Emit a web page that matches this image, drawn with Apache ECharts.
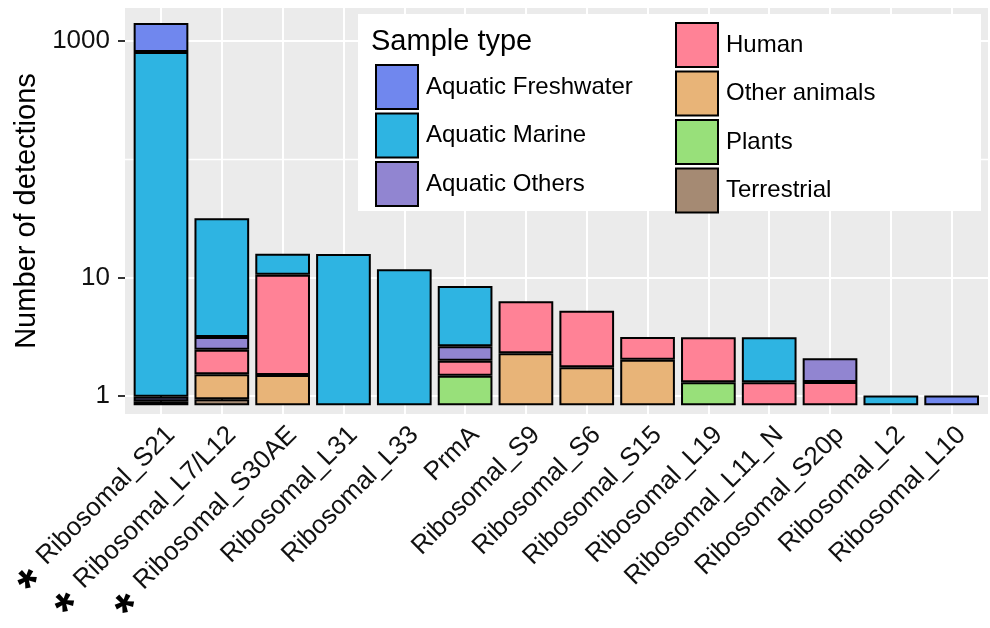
<!DOCTYPE html>
<html><head><meta charset="utf-8">
<script src="https://cdn.jsdelivr.net/npm/echarts@6/dist/echarts.min.js"></script>
<style>html,body{margin:0;padding:0;background:#fff}#c{width:990px;height:628px}</style>
</head><body><div id="c"></div>
<script>
// ---- data ----
const categories = ['Ribosomal_S21','Ribosomal_L7/L12','Ribosomal_S30AE','Ribosomal_L31','Ribosomal_L33','PrmA','Ribosomal_S9','Ribosomal_S6','Ribosomal_S15','Ribosomal_L19','Ribosomal_L11_N','Ribosomal_S20p','Ribosomal_L2','Ribosomal_L10'];
const starred = [true, true, true, false, false, false, false, false, false, false, false, false, false, false];
const sampleTypes = ['Aquatic Freshwater','Aquatic Marine','Aquatic Others','Human','Other animals','Plants','Terrestrial'];
// segment heights on the log10 axis (decades); stacked from the bar base
const barBase          = [-0.079,-0.079,-0.079,-0.079,-0.079,-0.079,-0.079,-0.079,-0.079,-0.079,-0.079,-0.079,-0.079,-0.079];
const terrestrial      = [0.034, 0.051, 0, 0, 0, 0, 0, 0, 0, 0, 0, 0, 0, 0];
const plants           = [0, 0, 0, 0, 0, 0.250, 0, 0, 0, 0.194, 0, 0, 0, 0];
const otherAnimals     = [0, 0.211, 0.256, 0, 0, 0, 0.439, 0.321, 0.385, 0, 0, 0, 0, 0];
const human            = [0, 0.208, 0.846, 0, 0, 0.127, 0.439, 0.478, 0.192, 0.380, 0.194, 0.197, 0, 0];
const aquaticOthers    = [0.038, 0.107, 0, 0, 0, 0.122, 0, 0, 0, 0, 0, 0.200, 0, 0];
const aquaticMarine    = [2.909, 1.002, 0.177, 1.278, 1.148, 0.509, 0, 0, 0, 0, 0.380, 0, 0.084, 0];
const aquaticFreshwater= [0.245, 0, 0, 0, 0, 0, 0, 0, 0, 0, 0, 0, 0, 0.084];
const yTickLabels = [1, 10, 1000];
const yMinorBreaks = [100];

// ---- styling ----
const colors = {
  'Aquatic Freshwater': '#7087EE',
  'Aquatic Marine': '#2EB4E2',
  'Aquatic Others': '#9185D1',
  'Human': '#FF8296',
  'Other animals': '#E8B478',
  'Plants': '#98E07A',
  'Terrestrial': '#A58A73'
};
const FONT = "'Liberation Sans', Arial, Helvetica, sans-serif";
const stackOrder = [
  ['Terrestrial', terrestrial], ['Plants', plants], ['Other animals', otherAnimals],
  ['Human', human], ['Aquatic Others', aquaticOthers], ['Aquatic Marine', aquaticMarine],
  ['Aquatic Freshwater', aquaticFreshwater]
];
const yMin = -0.152, yMax = 3.274;
const TOP = 8, H = 406;
const band = 60.82;               // px per category
const firstCenter = 161;          // px
const labelDx = 10;               // label anchor shift (px)
const n = categories.length;

const series = [{
  name: '_base', type: 'bar', stack: 'total', stackStrategy: 'all', barWidth: 54.7,
  xAxisIndex: 1, yAxisIndex: 2, silent: true,
  itemStyle: { color: 'rgba(0,0,0,0)', borderWidth: 0 },
  data: barBase
}];
stackOrder.forEach(([name, arr]) => {
  series.push({
    name, type: 'bar', stack: 'total', stackStrategy: 'all', barWidth: 54.7,
    xAxisIndex: 1, yAxisIndex: 2,
    itemStyle: { color: colors[name], borderColor: '#000', borderWidth: 2 },
    data: arr.map(v => v ? v : { value: 0, itemStyle: { opacity: 0, borderWidth: 0 } })
  });
});

const hiddenY = gi => ({ type: 'value', gridIndex: gi, min: yMin, max: yMax, show: false });
const gridBase = { top: TOP, height: H, outerBoundsMode: 'none', containLabel: false };

const chart = echarts.init(document.getElementById('c'), null, { renderer: 'canvas' });
chart.setOption({
  animation: false,
  backgroundColor: '#fff',
  textStyle: { fontFamily: FONT },
  grid: [
    Object.assign({ left: 125, width: 863, show: true, backgroundColor: '#EBEBEB', borderWidth: 0 }, gridBase),
    Object.assign({ left: firstCenter - band / 2, width: band * n }, gridBase),
    Object.assign({ left: firstCenter, width: band * (n - 1) }, gridBase),
    Object.assign({ left: firstCenter + labelDx, width: band * (n - 1) }, gridBase)
  ],
  xAxis: [
    { type: 'value', gridIndex: 0, show: false, min: 0, max: 1 },
    { type: 'category', gridIndex: 1, data: categories, show: false },
    { type: 'category', gridIndex: 2, data: categories, boundaryGap: false, position: 'bottom',
      axisLine: { show: false },
      axisTick: { show: true, interval: 0, length: 7, lineStyle: { color: '#333', width: 2 } },
      axisLabel: { show: false },
      splitLine: { show: true, interval: 0, lineStyle: { color: '#fff', width: 2 } } },
    { type: 'category', gridIndex: 3, data: categories, boundaryGap: false, position: 'bottom',
      axisLine: { show: false }, axisTick: { show: false }, splitLine: { show: false },
      axisLabel: {
        show: true, interval: 0, rotate: 45, margin: 17, color: '#111',
        formatter: (v, i) => (starred[i] ? '{a|*}' : '') + '{t|' + v + '}',
        rich: {
          a: { fontSize: 50, fontWeight: 'bold', verticalAlign: 'middle', padding: [27, 13, 0, 0], color: '#000', fontFamily: FONT },
          t: { fontSize: 26, verticalAlign: 'middle', color: '#111', fontFamily: FONT }
        }
      } }
  ],
  yAxis: [{
    type: 'value', gridIndex: 0, min: yMin, max: yMax,
    axisLine: { show: false },
    axisTick: { show: true, customValues: yTickLabels.map(Math.log10), length: 7, lineStyle: { color: '#333', width: 2 } },
    axisLabel: { show: true, customValues: yTickLabels.map(Math.log10), margin: 15, fontSize: 26, color: '#111', fontFamily: FONT,
      formatter: v => String(Math.round(Math.pow(10, v))) },
    splitLine: { show: true, lineStyle: { color: '#fff', width: 2 } },
    name: 'Number of detections', nameLocation: 'middle', nameGap: 84,
    nameTextStyle: { fontSize: 29, color: '#000', fontFamily: FONT }
  }, {
    type: 'value', gridIndex: 0, min: yMin, max: yMax, position: 'left',
    axisLine: { show: false },
    axisTick: { show: false, customValues: yMinorBreaks.map(Math.log10) },
    axisLabel: { show: false },
    splitLine: { show: true, lineStyle: { color: '#fff', width: 1.3 } }
  }, hiddenY(1), hiddenY(2), hiddenY(3)],
  title: {
    text: 'Sample type', left: 371, top: 27, padding: 0, z: 7,
    textStyle: { fontSize: 29, fontWeight: 'normal', color: '#000', fontFamily: FONT }
  },
  legend: [{
    data: sampleTypes.slice(0, 3), orient: 'vertical', left: 375, top: 64, padding: 0,
    itemWidth: 42, itemHeight: 44, itemGap: 2.5, icon: 'rect', z: 6, selectedMode: false,
    itemStyle: { borderColor: '#000', borderWidth: 2 },
    textStyle: { fontSize: 24, color: '#000', fontFamily: FONT, padding: [0, 0, 0, 3] }
  }, {
    data: sampleTypes.slice(3), orient: 'vertical', left: 675, top: 22, padding: 0,
    itemWidth: 42, itemHeight: 44, itemGap: 2.5, icon: 'rect', z: 6, selectedMode: false,
    itemStyle: { borderColor: '#000', borderWidth: 2 },
    textStyle: { fontSize: 24, color: '#000', fontFamily: FONT, padding: [0, 0, 0, 3] }
  }],
  graphic: [{
    type: 'rect', left: 358, top: 14, z: 3, silent: true,
    shape: { width: 623, height: 197 }, style: { fill: '#fff' }
  }],
  series
});
</script></body></html>
